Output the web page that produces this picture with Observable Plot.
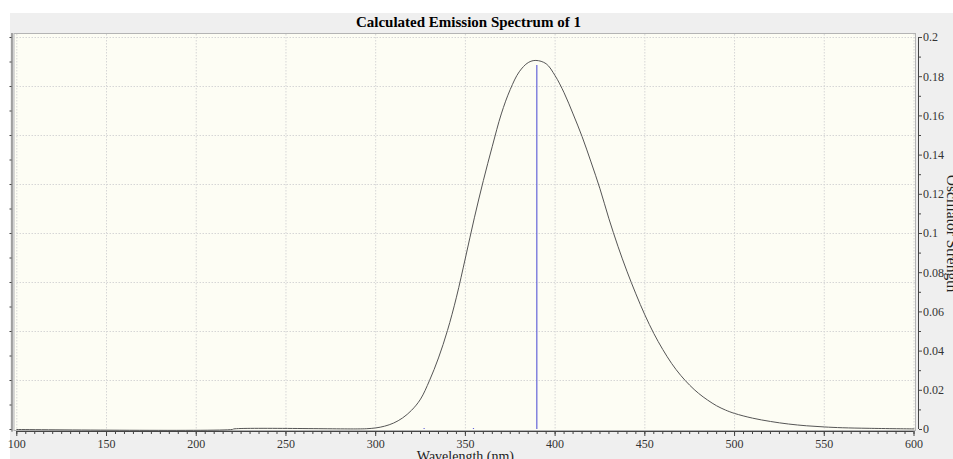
<!DOCTYPE html>
<html><head><meta charset="utf-8">
<script src="https://cdn.jsdelivr.net/npm/d3@7"></script>
<script src="https://cdn.jsdelivr.net/npm/@observablehq/plot@0.6"></script>
<style>
body{margin:0;background:#fff;}
#wrap{position:relative;width:953px;height:459px;overflow:hidden;}
#bg{position:absolute;left:10px;top:13px;right:0;bottom:0;background:#efefef;}
#chart{position:absolute;left:0;top:0;}
</style></head><body>
<div id="wrap"><div id="bg"></div><div id="chart"></div></div>
<script>
const titleText = "Calculated Emission Spectrum of 1";
const xLabel = "Wavelength (nm)";
const yLabel = "Oscillator Strength";

// broadened spectrum (in right-axis units)
const wavelengths = [100, 220, 221, 290, 295, 300, 305, 310, 315, 320, 325, 330, 335, 340, 345, 350, 355, 360, 365, 370, 375, 380, 385, 389.3, 395, 400, 405, 410, 415, 420, 425, 430, 435, 440, 445, 450, 455, 460, 465, 470, 475, 480, 485, 490, 495, 500, 510, 520, 530, 540, 550, 560, 575, 600];
const spectrum = [0, 0, 0.0003, 0.0003, 0.0004, 0.0008, 0.0017, 0.0033, 0.0059, 0.0098, 0.0155, 0.025, 0.0365, 0.0505, 0.0675, 0.0875, 0.108, 0.127, 0.1445, 0.161, 0.1735, 0.1825, 0.1872, 0.1883, 0.1866, 0.1805, 0.1718, 0.161, 0.1495, 0.1365, 0.1228, 0.1075, 0.0935, 0.0808, 0.0692, 0.0585, 0.049, 0.0408, 0.0336, 0.0276, 0.0226, 0.0184, 0.015, 0.0121, 0.0099, 0.0082, 0.0058, 0.0041, 0.0028, 0.0019, 0.0013, 0.0009, 0.0006, 0.0003];

// transitions (sticks)
const stickWavelengths = [389.8, 327, 354.5];
const stickStrengths = [0.1857, 0.0005, 0.0005];

const xTicks = [100, 150, 200, 250, 300, 350, 400, 450, 500, 550, 600];
const xMinorTicks = d3.range(100, 600.1, 5);
const yTicks = [0, 0.02, 0.04, 0.06, 0.08, 0.1, 0.12, 0.14, 0.16, 0.18, 0.2];
const yMinorTicks = [0.01, 0.03, 0.05, 0.07, 0.09, 0.11, 0.13, 0.15, 0.17, 0.19];
const gridYTicks = [0.025, 0.05, 0.075, 0.1, 0.125, 0.15, 0.175, 0.2];
const leftTicks = d3.range(0, 0.2001, 0.0125);

const specIdx = d3.range(wavelengths.length);
const stickIdx = d3.range(stickWavelengths.length);
const fmt = d3.format("~g");
const serif = "'Liberation Serif', 'DejaVu Serif', serif";

const chart = Plot.plot({
  width: 953,
  height: 459,
  marginLeft: 16.3,
  marginRight: 39.5,
  marginTop: 37,
  marginBottom: 30,
  style: {background: "transparent", fontFamily: serif, fontSize: "12px", color: "#333", overflow: "visible"},
  x: {domain: [100, 600], axis: null},
  y: {domain: [0, 0.2], axis: null},
  marks: [
    Plot.frame({fill: "#fdfdf4", stroke: "#b4b4b4", insetLeft: -2.8, insetRight: -1.5, insetTop: -4, insetBottom: -1}),
    Plot.gridX(xTicks, {stroke: "#d6d6d6", strokeOpacity: 1, strokeDasharray: "1.5,1.5", insetTop: -3}),
    Plot.gridY(gridYTicks, {stroke: "#d6d6d6", strokeOpacity: 1, strokeDasharray: "1.5,1.5", insetLeft: -2.8, insetRight: -1.5}),
    Plot.line(specIdx, {x: i => wavelengths[i], y: i => spectrum[i], stroke: "#555", strokeWidth: 1, curve: "catmull-rom"}),
    Plot.ruleX(stickIdx, {x: i => stickWavelengths[i], y1: 0, y2: i => stickStrengths[i], stroke: "#6464d8", strokeWidth: 1.2}),
    // left (unlabelled) axis
    Plot.ruleX([100], {dx: -4.8, stroke: "#555", insetTop: -4, insetBottom: -2.7}),
    Plot.axisY({anchor: "left", ticks: leftTicks, tickSize: 2, tickFormat: () => "", dx: -4.8, label: null, stroke: "#444"}),
    // right axis
    Plot.ruleX([600], {dx: 4.5, y1: 0, y2: 0.2, stroke: "#444"}),
    Plot.axisY({anchor: "right", ticks: yTicks, tickSize: 3, tickPadding: 1.5, dx: 4.5, tickFormat: fmt, label: null, stroke: "#444", fill: "#333", fontSize: 12}),
    Plot.axisY({anchor: "right", ticks: yMinorTicks, tickSize: 2, tickFormat: () => "", dx: 4.5, label: null, stroke: "#444"}),
    // bottom axis
    Plot.ruleY([0], {dy: 2, stroke: "#444"}),
    Plot.axisX({anchor: "bottom", ticks: xMinorTicks, tickSize: 3, tickFormat: () => "", dy: 2, label: null, stroke: "#444"}),
    Plot.axisX({anchor: "bottom", ticks: xTicks, tickSize: 5, tickPadding: 3, dy: 2, tickFormat: d => String(d), label: null, stroke: "#444", fill: "#333", fontSize: 12}),
    // titles
    Plot.text([titleText], {frameAnchor: "top", lineAnchor: "middle", textAnchor: "middle", dx: 3, dy: -15, fontWeight: "bold", fontSize: 15, fontFamily: serif, fill: "#000"}),
    Plot.text([xLabel], {frameAnchor: "bottom", lineAnchor: "top", textAnchor: "middle", dy: 21.5, fontSize: 14, fontFamily: serif, fill: "#222"}),
    Plot.text([yLabel], {frameAnchor: "right", textAnchor: "middle", lineAnchor: "bottom", rotate: 90, dx: 33, fontSize: 15.5, fontFamily: serif, fill: "#222", letterSpacing: 0.5})
  ]
});
document.getElementById("chart").appendChild(chart);
</script>
</body></html>
